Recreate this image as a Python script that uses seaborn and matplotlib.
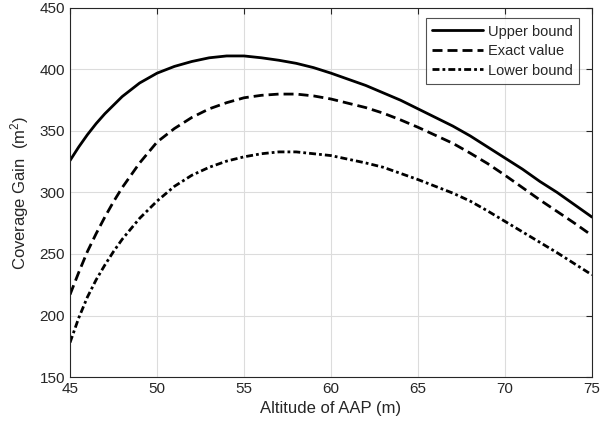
import pandas as pd
import seaborn as sns
import matplotlib.pyplot as plt

# ======================
# DATA
# ======================

altitude = [45, 45.5, 46, 46.5, 47, 47.5, 48, 49, 50, 51, 52, 53, 54, 55, 56, 57, 58, 59,
            60, 61, 62, 63, 64, 65, 66, 67, 68, 69, 70, 71, 72, 73, 74, 75]

upper_bound = [326, 337, 347, 356, 364, 371, 378, 389, 397, 402.5, 406.5, 409.5, 411, 411,
               409.5, 407.5, 405, 401.5, 397, 392, 387, 381, 375, 368, 361, 354, 346, 337,
               328, 319, 309, 300, 290, 280]
exact_value = [217, 235, 252, 266.5, 280, 292.5, 304, 324, 341, 352, 361, 368, 373, 377, 379,
               380, 380, 378.5, 376, 372.5, 369, 364.5, 359, 353, 346.5, 340, 332, 323.5,
               314, 304, 294, 284.5, 275, 265]
lower_bound = [178, 198, 215, 229, 241, 252, 262, 279, 293, 305, 314, 320.5, 325.5, 329,
               331.5, 333, 333, 331.5, 330, 327, 324, 320.5, 315.5, 310.5, 305, 299.5, 293,
               285, 276.5, 268, 259.5, 251, 242, 233]

series_names = ["Upper bound", "Exact value", "Lower bound"]

df = pd.concat([
    pd.DataFrame({"alt": altitude, "gain": upper_bound, "curve": series_names[0]}),
    pd.DataFrame({"alt": altitude, "gain": exact_value, "curve": series_names[1]}),
    pd.DataFrame({"alt": altitude, "gain": lower_bound, "curve": series_names[2]}),
])

# ======================
# STYLE
# ======================

sns.set_style("white")
plt.rcParams['font.family'] = ['Liberation Sans', 'DejaVu Sans']
plt.rcParams['mathtext.fontset'] = 'custom'
plt.rcParams['mathtext.rm'] = 'Liberation Sans'
plt.rcParams['mathtext.default'] = 'regular'

text_col = "#262626"

fig = plt.figure(figsize=(6, 4.29), dpi=100)
ax = fig.add_axes([0.1167, 0.1212, 0.87, 0.8602])

sns.lineplot(
    data=df, x="alt", y="gain",
    hue="curve", style="curve",
    palette=["black"] * 3,
    dashes=["", (3.6, 1.8), (2.5, 1.1, 1.0, 1.1)],
    linewidth=2.0,
    ax=ax,
)

ax.set_xlim(45, 75)
ax.set_ylim(150, 450)
ax.set_xticks(range(45, 76, 5))
ax.set_yticks(range(150, 451, 50))

ax.grid(True, color="#dcdcdc", linewidth=0.8)
ax.tick_params(direction="in", length=4, top=True, right=True,
               labelsize=11, colors=text_col, width=0.8)
for s in ax.spines.values():
    s.set_color(text_col)
    s.set_linewidth(0.8)

ax.set_xlabel("Altitude of AAP (m)", fontsize=12, color=text_col, labelpad=4)
ax.set_ylabel("Coverage Gain  (m$^2$)", fontsize=12, color=text_col, labelpad=6)

handles, labels = ax.get_legend_handles_labels()
leg = ax.legend(handles, labels, loc="upper right", fontsize=10.5,
                frameon=True, fancybox=False, edgecolor=text_col,
                handlelength=3.5, handletextpad=0.3, borderpad=0.45,
                labelspacing=0.38, borderaxespad=0,
                bbox_to_anchor=(0.975, 0.973))
leg.get_frame().set_linewidth(0.8)
for t in leg.get_texts():
    t.set_color(text_col)

plt.savefig("out.png", dpi=100)
